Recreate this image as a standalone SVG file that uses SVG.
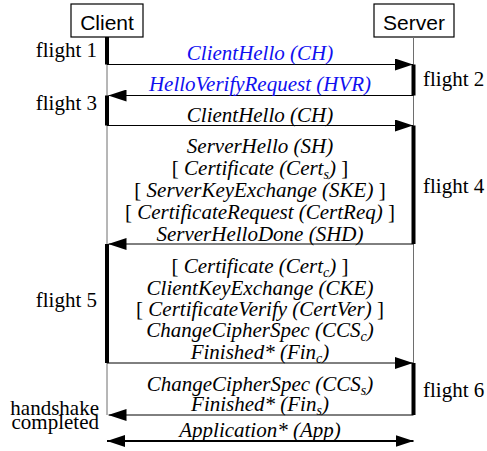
<svg xmlns="http://www.w3.org/2000/svg" width="487" height="451" viewBox="0 0 487 451">
  <style>
    .box { fill: #fff; stroke: #000; stroke-width: 1.2; }
    .who { font-family: 'Liberation Sans', Arial, sans-serif; font-size: 21px; text-anchor: middle; fill: #000; }
    .life { stroke: #6e6e6e; stroke-width: 1; fill: none; }
    .bar { fill: #000; }
    .msg { stroke: #000; stroke-width: 1; fill: none; marker-end: url(#head); }
    .app { stroke: #000; stroke-width: 2; fill: none; marker-start: url(#head2); marker-end: url(#head2); }
    .lbl { font-size: 21px; font-style: italic; text-anchor: middle; fill: #000; }
    .blue { fill: #1010f0; }
    .flt { font-size: 21px; fill: #000; }
    .sub { font-size: 14px; }
  </style>
  <defs>
    <marker id="head" markerUnits="userSpaceOnUse" markerWidth="18" markerHeight="12" refX="18" refY="6" orient="auto">
      <path d="M0,0 L18,6 L0,12 z" fill="#000"/>
    </marker>
    <marker id="head2" markerUnits="userSpaceOnUse" markerWidth="18" markerHeight="12" refX="18" refY="6" orient="auto-start-reverse">
      <path d="M0,0 L18,6 L0,12 z" fill="#000"/>
    </marker>
  </defs>

  <!-- participants -->
  <g id="client">
    <rect class="box" x="71" y="4" width="72" height="33"/>
    <text class="who" x="107" y="29.5">Client</text>
    <line class="life" x1="107" y1="37" x2="107" y2="415"/>
  </g>
  <g id="server">
    <rect class="box" x="374" y="4" width="80" height="33"/>
    <text class="who" x="414" y="29.5">Server</text>
    <line class="life" x1="413.5" y1="37" x2="413.5" y2="415"/>
  </g>

  <!-- flights: activation bars and their labels -->
  <g id="flights" font-family="'Liberation Serif', 'DejaVu Serif', 'Times New Roman', Times, serif">
    <rect class="bar" x="105" y="37" width="4" height="27.5"/>
    <rect class="bar" x="411.5" y="64.5" width="4" height="31"/>
    <rect class="bar" x="105" y="95.5" width="4" height="30"/>
    <rect class="bar" x="411.5" y="125.5" width="4" height="118.5"/>
    <rect class="bar" x="105" y="244" width="4" height="119"/>
    <rect class="bar" x="411.5" y="363" width="4" height="52"/>
    <text class="flt" x="97" y="57" text-anchor="end">flight 1</text>
    <text class="flt" x="423" y="86">flight 2</text>
    <text class="flt" x="97" y="110" text-anchor="end">flight 3</text>
    <text class="flt" x="423" y="193">flight 4</text>
    <text class="flt" x="97" y="307" text-anchor="end">flight 5</text>
    <text class="flt" x="423" y="397">flight 6</text>
    <text class="flt" x="99" y="415" text-anchor="end">handshake</text>
    <text class="flt" x="99" y="429" text-anchor="end">completed</text>
  </g>

  <!-- message connectors -->
  <g id="connectors">
    <line class="msg" x1="107" y1="64.5" x2="413" y2="64.5"/>
    <line class="msg" x1="413.5" y1="95.5" x2="108.5" y2="95.5"/>
    <line class="msg" x1="107" y1="125.5" x2="413" y2="125.5"/>
    <line class="msg" x1="413.5" y1="244" x2="108.5" y2="244"/>
    <line class="msg" x1="107" y1="363" x2="413" y2="363"/>
    <line class="msg" x1="413.5" y1="415" x2="108.5" y2="415"/>
    <line class="app" x1="107" y1="441" x2="413.5" y2="441"/>
  </g>

  <!-- message labels -->
  <g id="labels" font-family="'Liberation Serif', 'DejaVu Serif', 'Times New Roman', Times, serif">
    <text class="lbl blue" x="260" y="60">ClientHello (CH)</text>
    <text class="lbl blue" x="260" y="91">HelloVerifyRequest (HVR)</text>
    <text class="lbl" x="260" y="122">ClientHello (CH)</text>

    <text class="lbl" x="260" y="153">ServerHello (SH)</text>
    <text class="lbl" x="260" y="175"><tspan font-style="normal">[ </tspan>Certificate (Cert<tspan class="sub" dy="4">s</tspan><tspan dy="-4">)</tspan><tspan font-style="normal"> ]</tspan></text>
    <text class="lbl" x="260" y="197"><tspan font-style="normal">[ </tspan>ServerKeyExchange (SKE)<tspan font-style="normal"> ]</tspan></text>
    <text class="lbl" x="260" y="219"><tspan font-style="normal">[ </tspan>CertificateRequest (CertReq)<tspan font-style="normal"> ]</tspan></text>
    <text class="lbl" x="260" y="241">ServerHelloDone (SHD)</text>

    <text class="lbl" x="260" y="273"><tspan font-style="normal">[ </tspan>Certificate (Cert<tspan class="sub" dy="4">c</tspan><tspan dy="-4">)</tspan><tspan font-style="normal"> ]</tspan></text>
    <text class="lbl" x="260" y="295">ClientKeyExchange (CKE)</text>
    <text class="lbl" x="260" y="316"><tspan font-style="normal">[ </tspan>CertificateVerify (CertVer)<tspan font-style="normal"> ]</tspan></text>
    <text class="lbl" x="260" y="337">ChangeCipherSpec (CCS<tspan class="sub" dy="4">c</tspan><tspan dy="-4">)</tspan></text>
    <text class="lbl" x="260" y="359">Finished* (Fin<tspan class="sub" dy="4">c</tspan><tspan dy="-4">)</tspan></text>

    <text class="lbl" x="260" y="391">ChangeCipherSpec (CCS<tspan class="sub" dy="4">s</tspan><tspan dy="-4">)</tspan></text>
    <text class="lbl" x="260" y="411">Finished* (Fin<tspan class="sub" dy="4">s</tspan><tspan dy="-4">)</tspan></text>

    <text class="lbl" x="260" y="437">Application* (App)</text>
  </g>
</svg>
